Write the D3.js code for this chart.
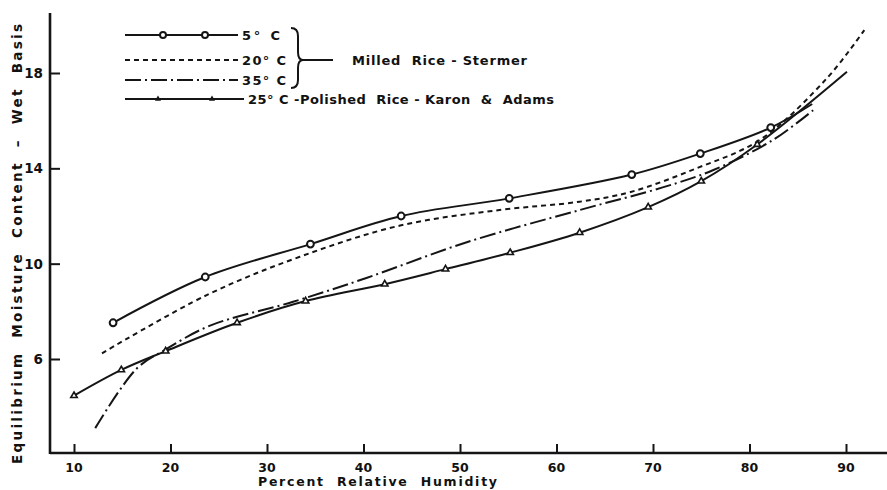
<!DOCTYPE html>
<html>
<head>
<meta charset="utf-8">
<style>
  body { margin: 0; background: #fff; }
  svg text { font-family: "DejaVu Sans", "Liberation Sans", sans-serif; font-weight: bold; fill: #111; white-space: pre; }
</style>
</head>
<body>
<div id="chart"></div>
<script src="https://cdnjs.cloudflare.com/ajax/libs/d3/7.8.5/d3.min.js"></script>
<script>
// values (RH %, moisture %)
var xTicks = [10, 20, 30, 40, 50, 60, 70, 80, 90];
var yTicks = [6, 10, 14, 18];

var rh5  = [14.05, 23.6, 34.5, 43.9, 55.1, 67.8, 74.9, 82.2, 86.5];
var mc5  = [7.52, 9.44, 10.82, 12.0, 12.74, 13.74, 14.62, 15.71, 16.7];
var rh20 = [12.9, 23.75, 33.4, 43.8, 54.1, 62.4, 67.6, 74.5, 81.1, 88.0, 91.9];
var mc20 = [6.24, 8.68, 10.29, 11.6, 12.25, 12.6, 13.0, 14.0, 15.2, 17.77, 19.8];
var rh35 = [12.2, 16.5, 19.5, 24.1, 32.7, 40.3, 50.7, 62.4, 71.0, 76.2, 82.4, 86.6];
var mc35 = [3.1, 5.6, 6.4, 7.4, 8.4, 9.4, 10.9, 12.25, 13.2, 13.92, 15.18, 16.44];
var rhKA = [10, 14.9, 19.5, 26.9, 34.0, 42.2, 48.5, 55.2, 62.4, 69.5, 75.0, 80.8, 90.1];
var mcKA = [4.46, 5.54, 6.33, 7.52, 8.43, 9.14, 9.77, 10.46, 11.3, 12.37, 13.46, 15.0, 18.05];
// which points carry a marker
var mark5  = [true, true, true, true, true, true, true, true, false];
var markKA = [true, true, true, true, true, true, true, true, true, true, true, true, false];

function zip(xs, ys) { return xs.map(function(x, i){ return {x: x, y: ys[i], i: i}; }); }

var width = 887, height = 490;
var svg = d3.select("#chart").append("svg").attr("width", width).attr("height", height);

var x = d3.scaleLinear().domain([10, 90]).range([74, 846]);
var y = d3.scaleLinear().domain([6, 18]).range([359, 73]);
var ink = "#151515";

// axes
svg.append("line").attr("x1", 50).attr("x2", 887).attr("y1", 453).attr("y2", 453)
   .attr("stroke", ink).attr("stroke-width", 2.6);
svg.append("line").attr("x1", 50).attr("x2", 50).attr("y1", 13).attr("y2", 454)
   .attr("stroke", ink).attr("stroke-width", 2.6);

var xAxis = svg.append("g").attr("transform", "translate(0,453)")
   .call(d3.axisTop(x).tickValues(xTicks).tickSize(9).tickFormat(""));
xAxis.select(".domain").remove();
xAxis.selectAll("line").attr("stroke", ink).attr("stroke-width", 2);
svg.selectAll(".xlab").data(xTicks).enter().append("text")
   .attr("x", function(d){ return x(d); }).attr("y", 472)
   .attr("text-anchor", "middle").attr("font-size", 12.5).text(function(d){ return d; });

var yAxis = svg.append("g").attr("transform", "translate(50,0)")
   .call(d3.axisLeft(y).tickValues(yTicks).tickSize(-10).tickFormat(""));
yAxis.select(".domain").remove();
yAxis.selectAll("line").attr("stroke", ink).attr("stroke-width", 2);
svg.selectAll(".ylab").data(yTicks).enter().append("text")
   .attr("x", 43).attr("y", function(d){ return y(d) + 5; })
   .attr("text-anchor", "end").attr("font-size", 13.5).text(function(d){ return d; });

svg.append("text").attr("x", 258).attr("y", 486).attr("font-size", 12.5)
   .attr("textLength", 239).attr("lengthAdjust", "spacing")
   .text("Percent  Relative  Humidity");
svg.append("text").attr("transform", "translate(22,464) rotate(-90)")
   .attr("font-size", 13.5).attr("textLength", 440).attr("lengthAdjust", "spacing")
   .text("Equilibrium  Moisture  Content  \u2013  Wet  Basis");

// curves
var line = d3.line().x(function(d){ return x(d.x); }).y(function(d){ return y(d.y); })
   .curve(d3.curveCatmullRom.alpha(0.5));

var series = [
  {pts: zip(rh5, mc5), dash: null, marks: mark5, sym: "circle"},
  {pts: zip(rh20, mc20), dash: "5,4", marks: null},
  {pts: zip(rh35, mc35), dash: "16,4,2,4", marks: null},
  {pts: zip(rhKA, mcKA), dash: null, marks: markKA, sym: "triangle"}
];

series.forEach(function(s){
  svg.append("path").attr("d", line(s.pts)).attr("fill", "none")
     .attr("stroke", ink).attr("stroke-width", 2)
     .attr("stroke-dasharray", s.dash);
  if (s.marks) {
    var pts = s.pts.filter(function(d){ return s.marks[d.i]; });
    if (s.sym === "circle") {
      svg.selectAll(null).data(pts).enter().append("circle")
         .attr("cx", function(d){ return x(d.x); }).attr("cy", function(d){ return y(d.y); })
         .attr("r", 3.4).attr("fill", "#fff").attr("stroke", ink).attr("stroke-width", 2);
    } else {
      svg.selectAll(null).data(pts).enter().append("path")
         .attr("d", d3.symbol(d3.symbolTriangle, 18))
         .attr("transform", function(d){ return "translate(" + x(d.x) + "," + y(d.y) + ")"; })
         .attr("fill", "#fff").attr("stroke", ink).attr("stroke-width", 1.6);
    }
  }
});

// legend
var legendLabels = ["5\u00b0 C", "20\u00b0 C", "35\u00b0 C", "25\u00b0 C -Polished  Rice - Karon  &  Adams"];
var legendY = [35, 60, 80, 99];
var leg = svg.append("g");
series.forEach(function(s, i){
  var x2 = i === 3 ? 244 : 238;
  leg.append("line").attr("x1", 125).attr("x2", x2).attr("y1", legendY[i]).attr("y2", legendY[i])
     .attr("stroke", ink).attr("stroke-width", 2).attr("stroke-dasharray", s.dash);
  var t = leg.append("text").attr("x", x2 + 4).attr("y", legendY[i] + 5).attr("font-size", 13)
     .text(legendLabels[i]);
  if (i === 3) t.attr("textLength", 306).attr("lengthAdjust", "spacing");
  else t.attr("textLength", i === 0 ? 38 : 44).attr("lengthAdjust", "spacing");
});
[163, 205].forEach(function(cx){
  leg.append("circle").attr("cx", cx).attr("cy", 35).attr("r", 3)
     .attr("fill", "#fff").attr("stroke", ink).attr("stroke-width", 2);
});
[158, 212].forEach(function(cx){
  leg.append("path").attr("d", d3.symbol(d3.symbolTriangle, 16))
     .attr("transform", "translate(" + cx + ",99)").attr("fill", ink);
});
// brace
leg.append("path").attr("d", "M291,28 Q298,28 298,36 L298,52 Q298,60 303,60 Q298,60 298,68 L298,80 Q298,88 291,88")
   .attr("fill", "none").attr("stroke", ink).attr("stroke-width", 2);
leg.append("line").attr("x1", 303).attr("x2", 333).attr("y1", 60).attr("y2", 60)
   .attr("stroke", ink).attr("stroke-width", 2);
leg.append("text").attr("x", 352).attr("y", 65).attr("font-size", 13)
   .attr("textLength", 175).attr("lengthAdjust", "spacing").text("Milled  Rice - Stermer");
</script>
</body>
</html>
